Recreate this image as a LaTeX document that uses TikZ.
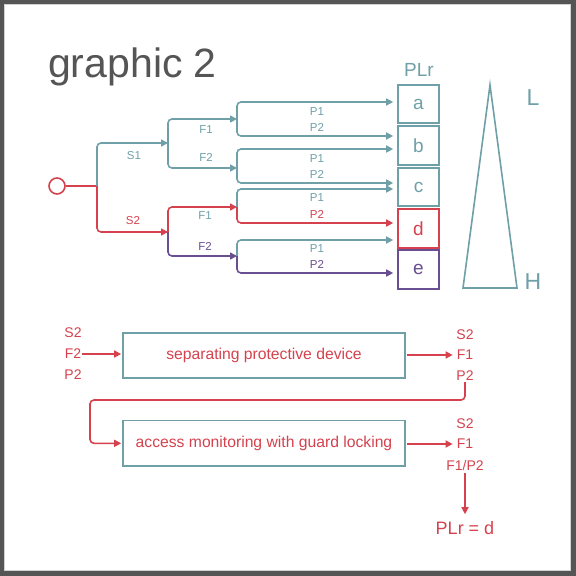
\documentclass[tikz,border=0pt]{standalone}
\usepackage{fontspec}
\setmainfont{Liberation Sans}
\usetikzlibrary{arrows.meta,calc}
\definecolor{tl}{HTML}{6FA0A8}
\definecolor{rd}{HTML}{D5424E}
\definecolor{pu}{HTML}{6A4E92}
\definecolor{tx}{HTML}{555555}
\definecolor{framec}{HTML}{555555}
\begin{document}
\begin{tikzpicture}[x=1pt,y=-1pt,
  conn/.style={line width=1.6pt, rounded corners=4pt, -{Triangle[length=7pt,width=7pt]}},
  plain/.style={line width=1.6pt, rounded corners=4pt},
  plbox/.style={draw, line width=1.6pt, minimum width=41pt, minimum height=38.5pt, inner sep=0pt, font=\fontsize{19}{19}\selectfont},
  lbl/.style={font=\fontsize{11.5}{12}\selectfont, inner sep=0pt},
  io/.style={font=\fontsize{14}{14}\selectfont, inner sep=1pt, text=rd},
  stage/.style={draw=tl, line width=1.7pt, minimum width=282pt, minimum height=45.6pt, text=rd, font=\fontsize{15.7}{16}\selectfont, inner sep=0pt}
]
\fill[framec] (0,0) rectangle (576,576);
\fill[white] (4,4) rectangle (571,571);
\draw[gray!35, line width=0.6pt] (4.5,4.5) rectangle (570.5,570.5);
\useasboundingbox (0,0) rectangle (576,576);

% title
\node[anchor=base west, text=tx, font=\fontsize{41}{41}\selectfont, inner sep=0pt] (title) at (48,77) {graphic 2};

% PLr boxes
\node[text=tl, font=\fontsize{19}{19}\selectfont] (plr) at (419,70) {PLr};
\node[plbox, draw=tl, text=tl] (a) at (418.5,104) {a};
\node[plbox, draw=tl, text=tl] (b) at (418.5,145.5) {b};
\node[plbox, draw=tl, text=tl] (c) at (418.5,187) {c};
\node[plbox, draw=rd, text=rd] (d) at (418.5,228.5) {d};
\node[plbox, draw=pu, text=pu] (e) at (418.5,269.5) {e};

% start
\node[circle, draw=rd, line width=1.6pt, minimum size=16pt, inner sep=0pt] (start) at (57,186) {};
\coordinate (j0) at (97,186);
\coordinate (j1) at (168,143);
\coordinate (j2) at (168,232);
\coordinate (k1) at (237,119);
\coordinate (k2) at (237,168);
\coordinate (k3) at (237,207);
\coordinate (k4) at (237,256);

\draw[plain, rd] (start) -- (j0);
\draw[conn, tl] (j0) |- (j1);
\draw[conn, rd] (j0) |- (j2);
\draw[conn, tl] (j1) |- (k1);
\draw[conn, tl] (j1) |- (k2);
\draw[conn, rd] (j2) |- (k3);
\draw[conn, pu] (j2) |- (k4);

\draw[conn, tl, shorten >=4pt] (k1) |- (a.west |- 0,102);
\draw[conn, tl, shorten >=4pt] (k1) |- (b.west |- 0,136);
\draw[conn, tl, shorten >=4pt] (k2) |- (b.west |- 0,149);
\draw[conn, tl, shorten >=4pt] (k2) |- (c.west |- 0,183);
\draw[conn, tl, shorten >=4pt] (k3) |- (c.west |- 0,189);
\draw[conn, rd, shorten >=4pt] (k3) |- (d.west |- 0,223);
\draw[conn, tl, shorten >=4pt] (k4) |- (d.west |- 0,240);
\draw[conn, pu, shorten >=4pt] (k4) |- (e.west |- 0,273);

% labels
\node[lbl, text=tl] (ls1) at (134,156) {S1};
\node[lbl, text=rd] (ls2) at (133,221) {S2};
\node[lbl, text=tl] (lf1a) at (206,130) {F1};
\node[lbl, text=tl] (lf2a) at (206,157) {F2};
\node[lbl, text=tl] (lf1b) at (205,216) {F1};
\node[lbl, text=pu] (lf2b) at (205,246) {F2};
\node[lbl, text=tl] (p1a) at (317,112) {P1};
\node[lbl, text=tl] (p2a) at (317,127) {P2};
\node[lbl, text=tl] (p1b) at (317,159) {P1};
\node[lbl, text=tl] (p2b) at (317,174) {P2};
\node[lbl, text=tl] (p1c) at (317,198) {P1};
\node[lbl, text=rd] (p2c) at (317,214) {P2};
\node[lbl, text=tl] (p1d) at (317,249) {P1};
\node[lbl, text=pu] (p2d) at (317,264) {P2};

% triangle
\draw[tl, line width=1.6pt] (490,85) -- (517,288) -- (463,288) -- cycle;
\node[text=tl, font=\fontsize{23}{23}\selectfont] (lL) at (533,98) {L};
\node[text=tl, font=\fontsize{23}{23}\selectfont] (lH) at (533,282) {H};

% lower part
\node[io] (inS) at (73,333) {S2};
\node[io] (inF) at (73,354) {F2};
\node[io] (inP) at (73,375) {P2};
\node[stage] (sep) at (264,355.5) {separating protective device};
\node[stage] (acc) at (264,443.3) {access monitoring with guard locking};
\node[io] (o1S) at (465,335) {S2};
\node[io] (o1F) at (465,355) {F1};
\node[io] (o1P) at (465,376) {P2};
\node[io] (o2S) at (465,424) {S2};
\node[io] (o2F) at (465,444) {F1};
\node[io] (o2P) at (465,465) {F1/P2};
\node[text=rd, font=\fontsize{18}{18}\selectfont, inner sep=0pt] (res) at (465,528) {PLr = d};
\coordinate (lp) at (90,400);

\draw[conn, rd, shorten >=1pt] (inF.east) -- (inF.east -| sep.west);
\draw[conn, rd, shorten <=1pt, shorten >=3pt] (sep.east |- o1F) -- (o1F.west);
\draw[conn, rd, shorten >=1pt] (o1P.south) |- (lp) |- (acc.west);
\draw[conn, rd, shorten <=1pt, shorten >=3pt] (acc.east |- o2F) -- (o2F.west);
\draw[conn, rd, shorten <=2pt, shorten >=7pt] (o2P.south) -- (res.north);
\end{tikzpicture}
\end{document}
